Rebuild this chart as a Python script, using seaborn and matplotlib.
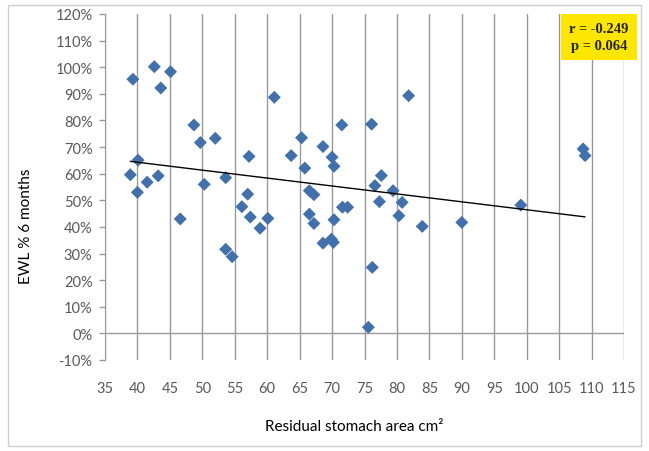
import matplotlib
matplotlib.use("Agg")
import matplotlib.pyplot as plt
import matplotlib.patches as mpatches
import seaborn as sns
import numpy as np
import pandas as pd

# residual stomach area (cm2) vs EWL % at 6 months
area_cm2 = [39.3, 42.6, 43.6, 45.1, 48.7, 49.7, 52.0, 61.1, 57.2, 40.1,
            38.9, 41.5, 43.2, 40.0, 50.3, 53.6, 57.0, 46.6, 53.6, 54.6,
            56.1, 57.4, 58.9, 60.1, 65.3, 63.7, 65.8, 71.5, 76.1, 81.8,
            68.6, 70.0, 70.3, 66.5, 67.2, 66.5, 67.2, 70.3, 71.6, 72.4,
            68.6, 69.9, 70.2, 77.3, 77.6, 76.6, 79.4, 80.8, 80.3, 83.9,
            76.2, 75.6, 90.0, 99.1, 108.7, 109.0]
ewl_pct = [95.5, 100.2, 92.2, 98.3, 78.3, 71.7, 73.3, 88.7, 66.5, 65.1,
           59.6, 56.8, 59.2, 53.0, 56.0, 58.5, 52.3, 43.0, 31.6, 28.8,
           47.6, 43.7, 39.5, 43.2, 73.5, 66.8, 62.1, 78.3, 78.6, 89.3,
           70.2, 66.2, 62.8, 53.6, 52.1, 44.8, 41.3, 42.7, 47.4, 47.4,
           33.9, 35.4, 34.2, 49.5, 59.3, 55.5, 53.6, 49.2, 44.2, 40.2,
           24.8, 2.3, 41.7, 48.2, 69.3, 66.8]

x_ticks = list(range(35, 116, 5))
y_ticks = list(range(-10, 121, 10))
stats_text = "r = -0.249\np = 0.064"

df = pd.DataFrame({"area": area_cm2, "ewl": ewl_pct})

sns.set_style("white")
plt.rcParams["font.family"] = ["Lato", "DejaVu Sans"]

grid_col = "#9a9a9a"
fig = plt.figure(figsize=(6.49, 4.52), dpi=100)
ax = fig.add_axes([105 / 649, 1 - 361 / 452, 519 / 649, 346 / 452])

sns.scatterplot(data=df, x="area", y="ewl", marker="D", s=44,
                color="#4270AA", edgecolor="none", ax=ax, zorder=3)

# linear trendline over the data range
slope, icpt = np.polyfit(df["area"], df["ewl"], 1)
xs = np.array([df["area"].min(), df["area"].max()])
ax.plot(xs, slope * xs + icpt, color="black", lw=1, zorder=4)

ax.set_xlim(35, 115)
ax.set_ylim(-10, 120)
ax.set_xticks(x_ticks)
ax.set_yticks(y_ticks)
ax.set_yticklabels([f"{v}%" for v in y_ticks])
ax.xaxis.grid(True, color=grid_col, lw=1)
ax.yaxis.grid(False)
ax.axhline(0, color=grid_col, lw=1, zorder=2)

for side in ["top", "right", "bottom"]:
    ax.spines[side].set_visible(False)
ax.spines["left"].set_color(grid_col)

ax.tick_params(axis="x", length=0, pad=15, labelsize=10.5, labelcolor="#595959")
ax.tick_params(axis="y", left=True, length=4, width=1, color=grid_col,
               pad=5, labelsize=10.5, labelcolor="#595959")

ax.set_xlabel("Residual stomach area cm²", fontsize=11, color="black")
ax.xaxis.set_label_coords(0.48, -0.17)
ax.set_ylabel("EWL % 6 months", fontsize=11, color="black")
ax.yaxis.set_label_coords(-0.139, 0.39)

fig.text(599 / 649, 1 - 38 / 452, stats_text, ha="center", va="center",
         fontsize=10.5, fontweight="bold", family=["Liberation Serif"],
         linespacing=1.45,
         bbox=dict(boxstyle="square,pad=0.55", fc="#FFE600", ec="none"))

# outer chart border
fig.patches.append(mpatches.Rectangle((8 / 649, 5 / 452), 633 / 649, 441 / 452,
                                      transform=fig.transFigure, fill=False,
                                      ec="#d0d0d0", lw=1))

fig.savefig("out.png", dpi=100)
